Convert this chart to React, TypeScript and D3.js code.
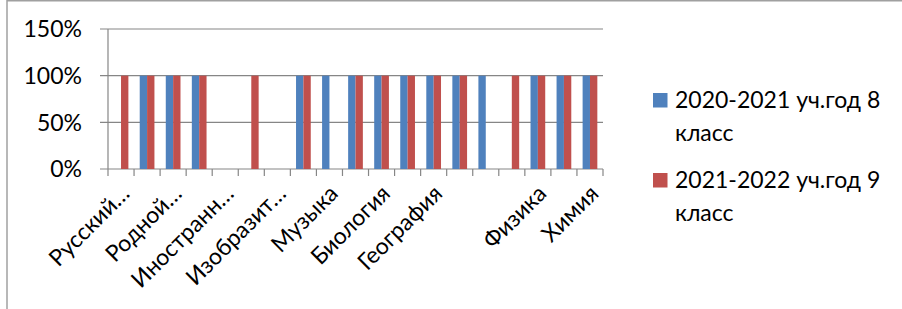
import * as React from 'react';
import * as d3 from 'd3';

const categories: string[] = [
	'Русский…',
	'Литература',
	'Родной…',
	'Родная литература',
	'Иностранн…',
	'Математика',
	'Изобразит…',
	'История',
	'Музыка',
	'Технология',
	'Биология',
	'Обществознание',
	'География',
	'Алгебра',
	'',
	'Геометрия',
	'Физика',
	'Информатика',
	'Химия'
];

const series: string[] = ['2020-2021 уч.год 8 класс', '2021-2022 уч.год 9 класс'];
const seriesLines: string[][] = [
	['2020-2021 уч.год 8', 'класс'],
	['2021-2022 уч.год 9', 'класс']
];
const values2021: number[] = [0, 1, 1, 1, 0, 0, 0, 1, 1, 1, 1, 1, 1, 1, 1, 0, 1, 1, 1];
const values2022: number[] = [1, 1, 1, 1, 0, 1, 0, 1, 0, 1, 1, 1, 1, 1, 0, 1, 1, 1, 1];
const yTicks: number[] = [0, 0.5, 1, 1.5];

const colors = ['#4F81BD', '#C0504D'];
const font = 'Lato, "Noto Sans", sans-serif';
const fs = 23;

class App extends React.Component {
	public render() {
		const width = 902;
		const height = 309;
		const plot = { left: 108, right: 603, top: 29, bottom: 169 };

		const x0 = d3
			.scaleBand<number>()
			.domain(categories.map((_, i) => i))
			.range([plot.left, plot.right])
			.paddingInner(0)
			.paddingOuter(0);
		const x1 = d3
			.scaleBand<number>()
			.domain([0, 1])
			.range([0, x0.bandwidth()])
			.paddingInner(0)
			.paddingOuter(0.77);
		const y = d3.scaleLinear().domain([0, 1.5]).range([plot.bottom, plot.top]);

		const allValues = [values2021, values2022];
		const fmt = d3.format('.0%');

		return (
			<svg
				width={width}
				height={height}
				style={{ position: 'absolute', left: 0, top: 0, background: '#fff' }}
				fontFamily={font}
			>
				<rect x={0} y={0} width={width} height={height} fill="#fff" />
				{/* chart frame */}
				<line x1={7} x2={7} y1={0} y2={height} stroke="#A0A0A0" strokeWidth={1.5} />
				<line x1={7} x2={width} y1={0.75} y2={0.75} stroke="#A0A0A0" strokeWidth={1.5} />

				{/* grid + y axis */}
				{yTicks.map((t) => (
					<g key={t}>
						<line x1={plot.left - 8} x2={plot.right} y1={y(t)} y2={y(t)} stroke="#868686" strokeWidth={1.2} />
						<text x={82} y={y(t)} dy="0.36em" textAnchor="end" fontSize={fs} fill="#000">
							{fmt(t)}
						</text>
					</g>
				))}
				<line x1={plot.left} x2={plot.left} y1={plot.top} y2={plot.bottom} stroke="#868686" strokeWidth={1.2} />

				{/* bars */}
				{allValues.map((vals, s) =>
					vals.map((v, i) =>
						v > 0 ? (
							<rect
								key={`${s}-${i}`}
								x={(x0(i) as number) + (x1(s) as number)}
								y={y(v)}
								width={x1.bandwidth()}
								height={y(0) - y(v)}
								fill={colors[s]}
							/>
						) : null
					)
				)}

				{/* x axis ticks */}
				{d3.range(categories.length + 1).map((i) => {
					const xx = plot.left + i * x0.step();
					return <line key={i} x1={xx} x2={xx} y1={plot.bottom} y2={plot.bottom + 7} stroke="#868686" strokeWidth={1.2} />;
				})}

				{/* category labels, every second one */}
				{categories.map((c, i) => {
					if (i % 2 !== 0 || !c) return null;
					const cx = (x0(i) as number) + x0.bandwidth() / 2 + 10;
					const cy = 195;
					return (
						<text
							key={i}
							transform={`translate(${cx},${cy}) rotate(-45)`}
							textAnchor="end"
							fontSize={fs}
							fill="#000"
						>
							{c}
						</text>
					);
				})}

				{/* legend */}
				{series.map((s, k) => (
					<g key={s} transform={`translate(653,${93 + k * 80})`}>
						<rect x={0} y={0} width={14.5} height={14.5} fill={colors[k]} />
						{seriesLines[k].map((ln, j) => (
							<text key={j} x={22} y={14.5 + j * 33} fontSize={fs} fill="#000">
								{ln}
							</text>
						))}
					</g>
				))}
			</svg>
		);
	}
}

export default App;
